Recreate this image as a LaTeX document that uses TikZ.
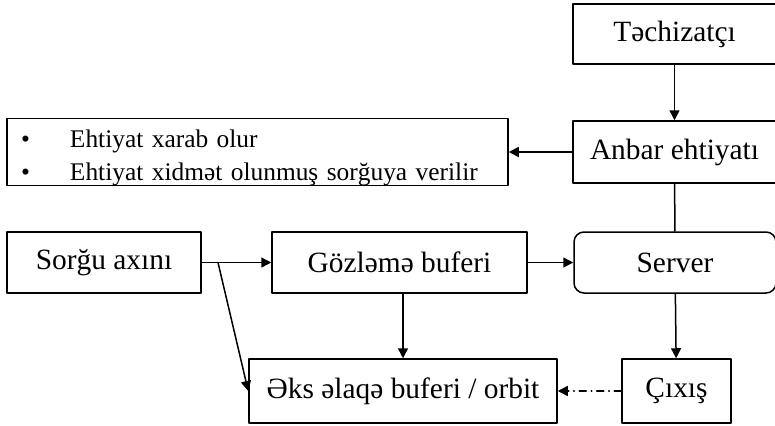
\documentclass[tikz,border=0pt]{standalone}
\usepackage{fontspec}
\setmainfont{Liberation Serif}
\usetikzlibrary{arrows.meta}

\begin{document}
\begin{tikzpicture}[line cap=round,line join=round,>={Triangle[length=10pt,width=10pt]},x=1pt,y=-1pt,
  box/.style={draw,line width=1.5pt,inner sep=0pt,font=\fontsize{29.4}{35}\selectfont},
  rbox/.style={box,rounded corners=10pt},
  conn/.style={->,line width=1.5pt}]
\clip(0,0) rectangle (775,425);
% boxes
\node[box,minimum width=203pt,minimum height=60pt] (supp) at (674.5,34) {Təchizatçı};
\node[box,minimum width=203pt,minimum height=62pt] (stock) at (674.5,152) {Anbar ehtiyatı};
\node[box,minimum width=501pt,minimum height=62pt,text width=473pt,inner xsep=14pt,align=left,font=\fontsize{25.4}{33}\selectfont] (note) at (257.5,152) {\rule{0pt}{29pt}\makebox[49pt][l]{\textbullet}Ehtiyat xarab olur\\\makebox[49pt][l]{\textbullet}Ehtiyat xidmət olunmuş sorğuya verilir};
\node[box,minimum width=194pt,minimum height=61pt] (flow) at (104,262.5) {Sorğu axını};
\node[box,minimum width=255pt,minimum height=61pt] (queue) at (399.5,262.5) {Gözləmə buferi};
\node[rbox,minimum width=202pt,minimum height=61pt] (server) at (675,262.5) {Server};
\node[box,minimum width=308pt,minimum height=64pt] (orbit) at (403,391) {Əks əlaqə buferi / orbit};
\node[box,minimum width=109pt,minimum height=64pt] (out) at (676.5,391) {Çıxış};
\coordinate (split) at (218,262.5);
% connectors
\draw [conn] (supp) -- (stock);
\draw [conn] (stock) -- (note);
\draw [line width=1.5pt] (stock) -- (server);
\draw [conn] (flow) -- (queue);
\draw [conn] (queue) -- (server);
\draw [conn] (queue.south -| orbit.north) -- (orbit.north);
\draw [conn] (split) -- (orbit.west);
\draw [conn] (server) -- (out);
\draw [conn,dash pattern=on 7pt off 5pt on 0.5pt off 5pt] (out) -- (orbit);
\end{tikzpicture}
\end{document}
